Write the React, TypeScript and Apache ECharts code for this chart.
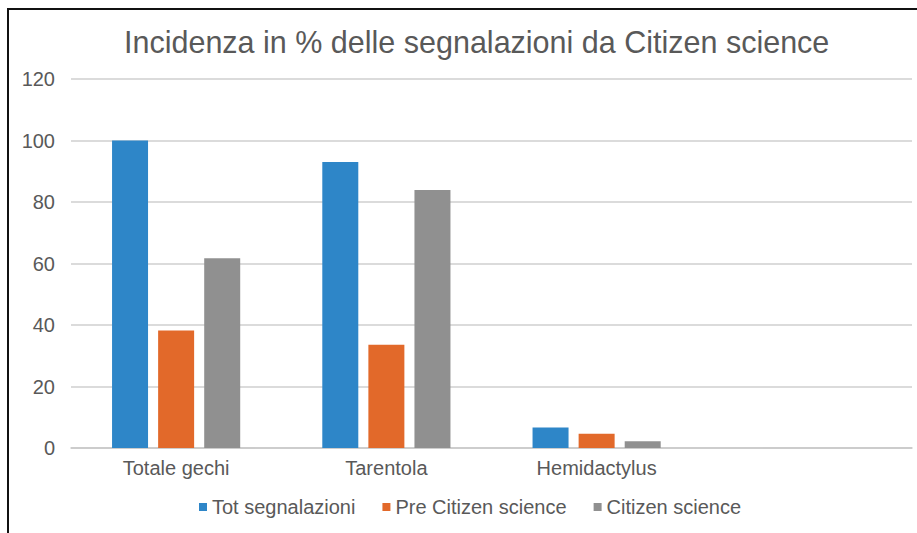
import React, { useEffect, useRef } from "react";
import * as echarts from "echarts";

const categories = ["Totale gechi", "Tarentola", "Hemidactylus", ""];
const totSegnalazioni = [100, 93, 6.7, null];
const preCitizen = [38.2, 33.6, 4.6, null];
const citizenScience = [61.7, 83.9, 2.2, null];
const yTicks = [0, 20, 40, 60, 80, 100, 120];

const TEXT = "#595959";
const FONT = "Liberation Sans, Arial, sans-serif";

export default function App() {
  const ref = useRef<HTMLDivElement>(null);
  useEffect(() => {
    document.body.style.margin = "0";
    const chart = echarts.init(ref.current!, null, { renderer: "svg" });
    chart.setOption({
      animation: false,
      backgroundColor: "#ffffff",
      title: {
        text: "Incidenza in % delle segnalazioni da Citizen science",
        left: 119,
        top: 21,
        textStyle: { fontSize: 30.5, fontWeight: "normal", color: TEXT, fontFamily: FONT },
      },
      legend: {
        bottom: 11,
        left: 194,
        icon: "rect",
        itemWidth: 8,
        itemHeight: 8,
        itemGap: 27,
        textStyle: { fontSize: 20, color: TEXT, fontFamily: FONT },
      },
      grid: { left: 71, right: 5, top: 79, bottom: 85, containLabel: false },
      xAxis: {
        type: "category",
        data: categories,
        axisLine: { lineStyle: { color: "#c8c8c8", width: 1.5 } },
        axisTick: { show: false },
        axisLabel: { fontSize: 20, color: TEXT, fontFamily: FONT, margin: 10 },
      },
      yAxis: {
        type: "value",
        min: yTicks[0],
        max: yTicks[yTicks.length - 1],
        interval: 20,
        axisLine: { show: false },
        axisTick: { show: false },
        axisLabel: { fontSize: 20, color: TEXT, fontFamily: FONT, margin: 16 },
        splitLine: { lineStyle: { color: "#cfcfcf", width: 1.5 } },
      },
      series: [
        { name: "Tot segnalazioni", type: "bar", data: totSegnalazioni, barWidth: 36, barGap: "28%", itemStyle: { color: "#2E86C8" } },
        { name: "Pre Citizen science", type: "bar", data: preCitizen, barWidth: 36, barGap: "28%", itemStyle: { color: "#E2692A" } },
        { name: "Citizen science", type: "bar", data: citizenScience, barWidth: 36, barGap: "28%", itemStyle: { color: "#909090" } },
      ],
      graphic: [
        { type: "line", shape: { x1: 7, y1: 9, x2: 917, y2: 9 }, style: { stroke: "#111", lineWidth: 2 } },
        { type: "line", shape: { x1: 8, y1: 8, x2: 8, y2: 533 }, style: { stroke: "#111", lineWidth: 2 } },
      ],
    });
    return () => chart.dispose();
  }, []);
  return <div ref={ref} style={{ width: 917, height: 533 }} />;
}
